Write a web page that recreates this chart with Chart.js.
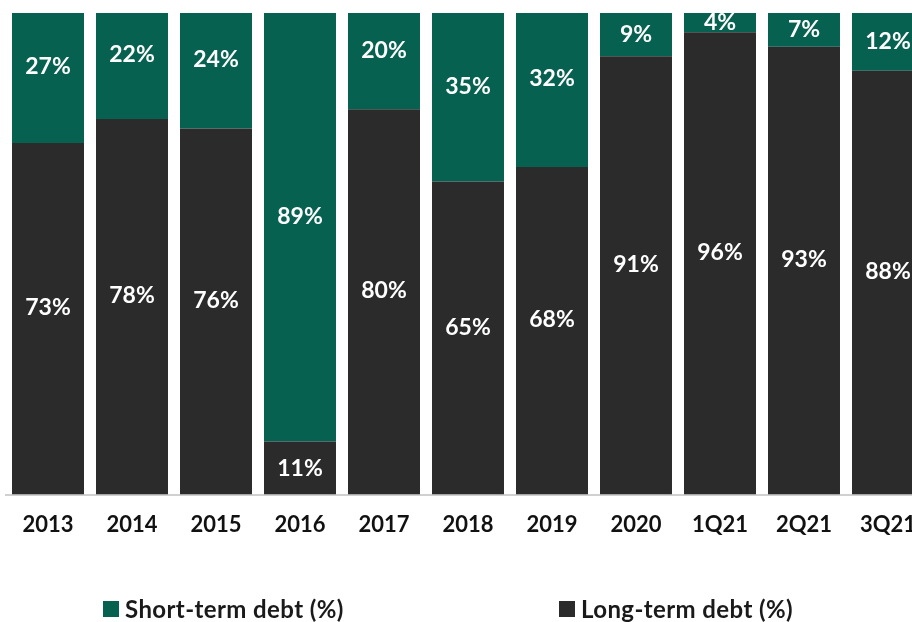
<!DOCTYPE html>
<html>
<head>
<meta charset="utf-8">
<script src="https://cdn.jsdelivr.net/npm/chart.js@4.4.1/dist/chart.umd.min.js"></script>
<style>
  html, body { margin: 0; padding: 0; background: #fff; overflow: hidden; }
  #wrap { position: relative; width: 934px; height: 622px; }
  #legend { position: absolute; left: 0; top: 596px; width: 912px; height: 26px;
            font-family: Lato, "Open Sans", sans-serif; font-weight: 700; font-size: 24px;
            letter-spacing: 0.4px; color: #1a1a1a; line-height: 26px; }
  .item { position: absolute; top: 0; white-space: nowrap; display: flex; align-items: center; }
  .sw { display: inline-block; width: 16px; height: 16px; margin-right: 6px; }
</style>
</head>
<body>
<div id="wrap">
  <canvas id="chart" width="934" height="622"></canvas>
  <div id="legend"></div>
</div>
<script>
// Debt maturity mix, share of total debt per period
const categories = ['2013', '2014', '2015', '2016', '2017', '2018', '2019', '2020', '1Q21', '2Q21', '3Q21'];
const shortTermDebt = [27, 22, 24, 89, 20, 35, 32, 9, 4, 7, 12];
const longTermDebt = [73, 78, 76, 11, 80, 65, 68, 91, 96, 93, 88];
const seriesNames = ['Short-term debt (%)', 'Long-term debt (%)'];

const TEAL = '#066150';
const DARK = '#2b2b2b';
const FONT = 'Lato, "Open Sans", sans-serif';

// White value labels inside each stacked segment
const segmentLabels = {
  id: 'segmentLabels',
  afterDatasetsDraw(chart) {
    const ctx = chart.ctx;
    ctx.save();
    ctx.font = '700 23px ' + FONT;
    ctx.fillStyle = '#ffffff';
    ctx.textAlign = 'center';
    ctx.textBaseline = 'middle';
    chart.data.datasets.forEach((ds, di) => {
      const meta = chart.getDatasetMeta(di);
      meta.data.forEach((bar, i) => {
        const top = Math.min(bar.y, bar.base);
        const h = Math.abs(bar.base - bar.y);
        const lift = h > 80 ? 11 : 0;
        ctx.fillText(ds.data[i] + '%', bar.x, top + h / 2 - lift);
      });
    });
    ctx.restore();
  }
};

const chart = new Chart(document.getElementById('chart'), {
  type: 'bar',
  data: {
    labels: categories,
    datasets: [
      { label: seriesNames[1], data: longTermDebt, backgroundColor: DARK, stack: 'debt' },
      { label: seriesNames[0], data: shortTermDebt, backgroundColor: TEAL, stack: 'debt' }
    ]
  },
  options: {
    responsive: false,
    animation: false,
    layout: { padding: { left: 6, right: 4, top: 13, bottom: 67 } },
    datasets: { bar: { categoryPercentage: 1, barPercentage: 0.857, borderWidth: 0 } },
    scales: {
      x: {
        stacked: true,
        grid: { display: false, drawTicks: false },
        border: { display: true, color: '#d0d0d0', width: 2 },
        ticks: { color: '#111', padding: 17, font: { family: FONT, size: 22, weight: '700' } }
      },
      y: {
        stacked: true,
        min: 0,
        max: 100,
        display: false
      }
    },
    plugins: {
      legend: { display: false },
      tooltip: { enabled: false }
    }
  },
  plugins: [segmentLabels]
});

// Legend below the plot
const legend = document.getElementById('legend');
[[seriesNames[0], TEAL, 103], [seriesNames[1], DARK, 559]].forEach(([name, color, left]) => {
  const el = document.createElement('div');
  el.className = 'item';
  el.style.left = left + 'px';
  el.innerHTML = '<span class="sw" style="background:' + color + '"></span><span>' + name + '</span>';
  legend.appendChild(el);
});
</script>
</body>
</html>
